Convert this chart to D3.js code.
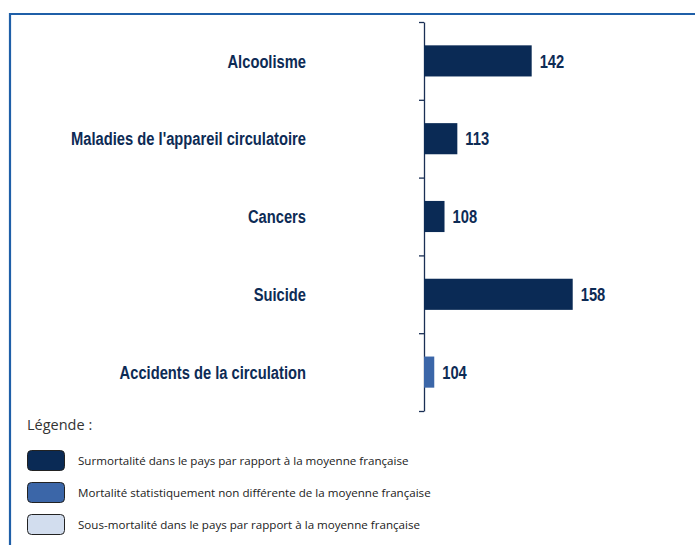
<!DOCTYPE html>
<html><head><meta charset="utf-8">
<script src="https://cdn.jsdelivr.net/npm/d3@7"></script>
<style>body{margin:0;background:#fff}svg{display:block}</style>
</head><body>
<script>
const categories = ["Alcoolisme","Maladies de l'appareil circulatoire","Cancers","Suicide","Accidents de la circulation"];
const values = [142,113,108,158,104];
const classes = [0,0,0,0,1]; // 0 = surmortalité, 1 = non différente, 2 = sous-mortalité
const legendLabels = ["Surmortalité dans le pays par rapport à la moyenne française","Mortalité statistiquement non différente de la moyenne française","Sous-mortalité dans le pays par rapport à la moyenne française"];
const legendColors = ["#0a2a55","#3b66a8","#d2ddee"];

const W=695,H=545;
const svg=d3.select("body").append("svg").attr("width",W).attr("height",H);

// frame
svg.append("path").attr("d",`M10,545 V14 H695`).attr("fill","none").attr("stroke","#1f5fa8").attr("stroke-width",2.2);

const x=d3.scaleLinear().domain([100,200]).range([424,680.4]);
const y=d3.scaleBand().domain(categories).range([22,411]).paddingInner(0.6).paddingOuter(0.3);

// axis with ticks at band boundaries
const yb=d3.scaleLinear().domain([0,categories.length]).range([22,411]);
const ax=svg.append("g").attr("transform","translate(424,0)")
  .call(d3.axisLeft(yb).tickValues(d3.range(0,categories.length+1)).tickSize(5).tickSizeOuter(0).tickFormat(""));
ax.selectAll("path,line").attr("stroke","#1a2f55").attr("stroke-width",1.3);

const fontB="'Liberation Sans',Arial,sans-serif";
svg.append("g").selectAll("rect").data(categories).join("rect")
  .attr("x",x(100)).attr("y",d=>y(d)).attr("height",y.bandwidth())
  .attr("width",(d,i)=>x(values[i])-x(100))
  .attr("fill",(d,i)=>legendColors[classes[i]]);

// condensed bold look: uniform horizontal compression
const sx=0.775, fs=19;
svg.append("g").selectAll("text").data(categories).join("text")
  .attr("transform",(d,i)=>`translate(${x(values[i])+8},${y(d)+y.bandwidth()/2}) scale(${sx},1)`)
  .attr("dy","0.35em")
  .attr("font-family",fontB).attr("font-weight","bold").attr("font-size",fs).attr("fill","#0d2b55")
  .text((d,i)=>values[i]);

svg.append("g").selectAll("text").data(categories).join("text")
  .attr("transform",d=>`translate(306,${y(d)+y.bandwidth()/2}) scale(${sx},1)`)
  .attr("dy","0.35em").attr("text-anchor","end")
  .attr("font-family",fontB).attr("font-weight","bold").attr("font-size",fs).attr("fill","#0d2b55")
  .text(d=>d);

// legend
const fontL="'Open Sans','Noto Sans',sans-serif";
svg.append("text").attr("x",27).attr("y",430).attr("font-family",fontL).attr("font-size",14.5).attr("fill","#333").text("Légende :");
const lg=svg.append("g").selectAll("g").data(legendLabels).join("g").attr("transform",(d,i)=>`translate(27,${450+i*32})`);
lg.append("rect").attr("x",0.5).attr("y",0.5).attr("width",37).attr("height",20).attr("rx",4)
  .attr("fill",(d,i)=>legendColors[i]).attr("stroke","#222").attr("stroke-width",1);
lg.append("text").attr("x",51).attr("y",10.5).attr("dy","0.35em").attr("font-family",fontL).attr("font-size",11.6).attr("fill","#222").text(d=>d);
</script>
</body></html>
